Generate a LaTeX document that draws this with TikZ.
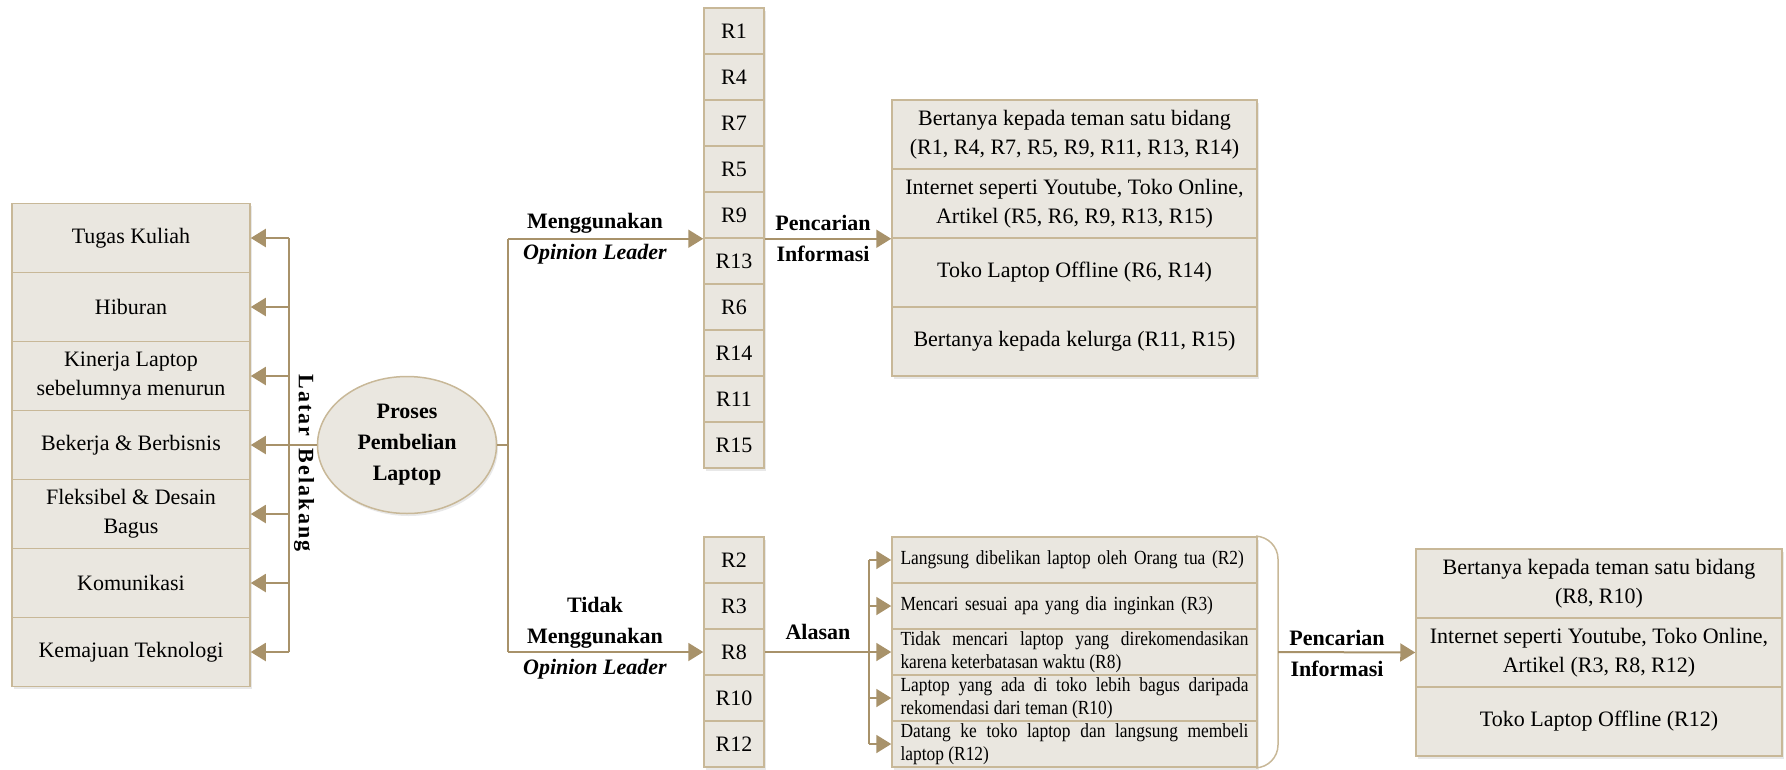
\documentclass[tikz,border=0pt]{standalone}
\usepackage{fontspec}
\setmainfont{Liberation Serif}
\newfontfamily\condfont[FakeStretch=0.87]{Liberation Serif}
\usetikzlibrary{arrows.meta,shapes.geometric,shadows}
\definecolor{boxfill}{RGB}{234,231,224}
\definecolor{boxline}{RGB}{200,184,152}
\definecolor{connc}{RGB}{168,146,106}
\begin{document}
\begin{tikzpicture}[x=1pt,y=-1pt,
  font=\fontsize{22}{29}\selectfont,
  shadowed/.style={drop shadow={shadow xshift=1.5pt,shadow yshift=-2.5pt,opacity=0.18}},
  basebox/.style={draw=boxline,fill=boxfill,line width=1.5pt,inner sep=0pt,align=center,shadowed},
  lbox/.style={basebox,minimum width=238pt,minimum height=69pt},
  rbox/.style={basebox,minimum width=60pt,minimum height=46pt},
  tbox/.style={basebox,minimum width=365pt,minimum height=69pt},
  abox/.style={basebox,minimum width=365pt,minimum height=46pt,text width=348pt,inner xsep=8.5pt,
    font=\condfont\fontsize{20}{23}\selectfont},
  ell/.style={basebox,ellipse,minimum width=179pt,minimum height=137pt,
    font=\bfseries\fontsize{22}{31}\selectfont},
  lbl/.style={font=\bfseries\fontsize{22}{31}\selectfont,align=center,inner sep=0pt},
  ln/.style={draw=connc,line width=2pt},
  arr/.style={draw=connc,fill=connc,line width=2pt,-{Triangle[length=15pt,width=18pt]}},
  brk/.style={draw=boxline,line width=1.5pt}
]
\useasboundingbox (0,0) rectangle (1786,769);

% left boxes
\node[lbox] (L1) at (131,238) {Tugas Kuliah};
\node[lbox] (L2) at (131,307) {Hiburan};
\node[lbox] (L3) at (131,376) {Kinerja Laptop\\sebelumnya menurun};
\node[lbox] (L4) at (131,445) {Bekerja \& Berbisnis};
\node[lbox] (L5) at (131,514) {Fleksibel \& Desain\\Bagus};
\node[lbox] (L6) at (131,583) {Komunikasi};
\node[lbox] (L7) at (131,652) {Kemajuan Teknologi};

% central ellipse
\node[ell] (P) at (407,445) {Proses\\Pembelian\\Laptop};

% left bus
\coordinate (busL) at (289,445);
\draw[ln] (L1.east -| busL) -- (L7.east -| busL);
\foreach \n in {L1,L2,L3,L5,L6,L7}
  \draw[arr] (\n.east -| busL) -- (\n.east);
\draw[arr] (P.west) -- (L4.east);
\node[lbl,rotate=-90] (lb) at (304,463) {\addfontfeature{LetterSpace=10}Latar\hspace{4pt} Belakang};

% top R column
\node[rbox] (R1) at (734,31) {R1};
\node[rbox] (R4) at (734,77) {R4};
\node[rbox] (R7) at (734,123) {R7};
\node[rbox] (R5) at (734,169) {R5};
\node[rbox] (R9) at (734,215) {R9};
\node[rbox] (R13) at (734,261) {R13};
\node[rbox] (R6) at (734,307) {R6};
\node[rbox] (R14) at (734,353) {R14};
\node[rbox] (R11) at (734,399) {R11};
\node[rbox] (R15) at (734,445) {R15};

% bottom R column
\node[rbox] (R2) at (734,560) {R2};
\node[rbox] (R3) at (734,606) {R3};
\node[rbox] (R8) at (734,652) {R8};
\node[rbox] (R10) at (734,698) {R10};
\node[rbox] (R12) at (734,744) {R12};

% top-right boxes
\node[tbox] (T1) at (1074.5,134.5) {Bertanya kepada teman satu bidang\\(R1, R4, R7, R5, R9, R11, R13, R14)};
\node[tbox] (T2) at (1074.5,203.5) {Internet seperti Youtube, Toko Online,\\Artikel (R5, R6, R9, R13, R15)};
\node[tbox] (T3) at (1074.5,272.5) {Toko Laptop Offline (R6, R14)};
\node[tbox] (T4) at (1074.5,341.5) {Bertanya kepada kelurga (R11, R15)};

% alasan boxes
\node[abox,align=left] (A1) at (1074.5,560) {Langsung dibelikan laptop oleh Orang tua (R2)};
\node[abox,align=left] (A2) at (1074.5,606) {Mencari sesuai apa yang dia inginkan (R3)};
\node[abox,align=justify] (A3) at (1074.5,652) {Tidak mencari laptop yang direkomendasikan\linebreak karena keterbatasan waktu (R8)};
\node[abox,align=justify] (A4) at (1074.5,698) {Laptop yang ada di toko lebih bagus daripada\linebreak rekomendasi dari teman (R10)};
\node[abox,align=justify] (A5) at (1074.5,744) {Datang ke toko laptop dan langsung membeli\linebreak laptop (R12)};

% bottom-right boxes
\node[tbox,minimum width=366pt] (B1) at (1599,583.5) {Bertanya kepada teman satu bidang\\(R8, R10)};
\node[tbox,minimum width=366pt] (B2) at (1599,652.5) {Internet seperti Youtube, Toko Online,\\Artikel (R3, R8, R12)};
\node[tbox,minimum width=366pt] (B3) at (1599,721.5) {Toko Laptop Offline (R12)};

% right bus from ellipse
\coordinate (busR) at (508,445);
\draw[ln] (P.east) -- (busR);
\draw[ln] (R9.south west -| busR) -- (R8.west -| busR);
\draw[arr] (R9.south west -| busR) -- (R9.south west);
\draw[arr] (R8.west -| busR) -- (R8.west);
\draw[arr] (R9.south east) -- (T2.south west);

% alasan bus
\coordinate (busA) at (869,652);
\draw[ln] (R8.east) -- (busA);
\draw[ln] (A1.west -| busA) -- (A5.west -| busA);
\foreach \n in {A1,A2,A3,A4,A5}
  \draw[arr] (\n.west -| busA) -- (\n.west);

% bracket round the reasons
\coordinate (brkT) at (1278,537);
\coordinate (brkB) at (1278,767);
\coordinate (brk) at (1278,652);
\draw[brk,rounded corners=22pt] (A1.north east) -- (brkT) -- (brkB) -- (A5.south east);
\draw[arr] (brk) -- (B2.west);

% labels
\node[lbl] (m1) at (595,239) {Menggunakan\\\textit{Opinion Leader}};
\node[lbl] (p1) at (823,238) {Pencarian\\Informasi};
\node[lbl] (m2) at (595,638) {Tidak\\Menggunakan\\\textit{Opinion Leader}};
\node[lbl] (al) at (818,632) {Alasan};
\node[lbl] (p2) at (1337,653) {Pencarian\\Informasi};
\end{tikzpicture}
\end{document}
